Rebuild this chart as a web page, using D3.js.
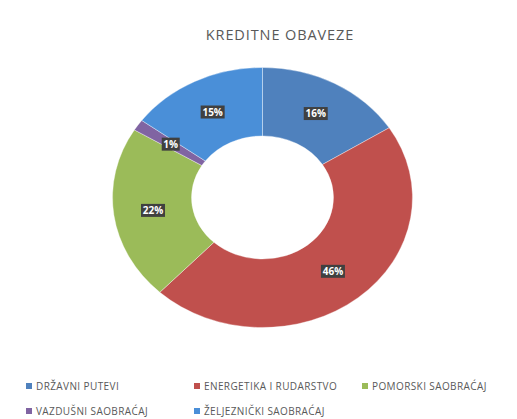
<!DOCTYPE html>
<html>
<head>
<meta charset="utf-8">
<script src="https://cdn.jsdelivr.net/npm/d3@7"></script>
<style>
  body { margin: 0; background: #fff; }
  text { font-family: "Open Sans", "DejaVu Sans", sans-serif; }
</style>
</head>
<body>
<script>
// data
const categories = ["DRŽAVNI PUTEVI", "ENERGETIKA I RUDARSTVO", "POMORSKI SAOBRAĆAJ", "VAZDUŠNI SAOBRAĆAJ", "ŽELJEZNIČKI SAOBRAĆAJ"];
const values = [16, 46, 21.7, 1.4, 14.9];
const colors = ["#4f81bd", "#c0504d", "#9bbb59", "#8064a2", "#4a8fd8"];
const title = "KREDITNE OBAVEZE";

const width = 517, height = 419;
const cx = 262.5, cy = 197.5;
const outer = 150, inner = 71, squash = 0.867;

const svg = d3.select("body").append("svg")
    .attr("width", width)
    .attr("height", height);

svg.append("text")
    .attr("x", 280)
    .attr("y", 40)
    .attr("text-anchor", "middle")
    .style("font-size", "14.5px")
    .style("letter-spacing", "0.9px")
    .style("fill", "#595959")
    .text(title);

const total = d3.sum(values);
const slices = categories.map((c, i) => ({ name: c, value: values[i], color: colors[i] }));

const pie = d3.pie().value(d => d.value).sort(null);
const arc = d3.arc().innerRadius(inner).outerRadius(outer);

const g = svg.append("g")
    .attr("transform", `translate(${cx},${cy}) scale(1,${squash})`);

const arcs = pie(slices);

g.selectAll("path")
    .data(arcs)
  .enter().append("path")
    .attr("d", arc)
    .style("fill", d => d.data.color)
    .style("stroke", "#fff")
    .style("stroke-width", 0.4);

// labels (outside the squashed group so text isn't distorted)
const fmt = d3.format(".0%");
const lbl = svg.selectAll(".lbl")
    .data(arcs)
  .enter().append("g")
    .attr("class", "lbl")
    .attr("transform", d => {
      const c = arc.centroid(d);
      return `translate(${cx + c[0]},${cy + c[1] * squash})`;
    });

lbl.append("rect")
    .attr("x", d => d.data.value / total < 0.1 ? -9 : -12)
    .attr("y", -6.5)
    .attr("width", d => d.data.value / total < 0.1 ? 18 : 24)
    .attr("height", 13)
    .style("fill", "#404040");

lbl.append("text")
    .attr("text-anchor", "middle")
    .attr("dy", "0.35em")
    .style("font-size", "10px")
    .style("font-weight", "bold")
    .style("fill", "#fff")
    .text(d => fmt(d.data.value / total));

// legend
const legendPos = [[26, 386], [194, 386], [362, 386], [26, 411], [194, 411]];
const leg = svg.selectAll(".leg")
    .data(slices)
  .enter().append("g")
    .attr("class", "leg")
    .attr("transform", (d, i) => `translate(${legendPos[i][0]},${legendPos[i][1]})`);

leg.append("rect")
    .attr("x", 0)
    .attr("y", -3)
    .attr("width", 6)
    .attr("height", 6)
    .style("fill", d => d.color);

leg.append("text")
    .attr("x", 10)
    .attr("dy", "0.35em")
    .style("font-size", "10px")
    .style("letter-spacing", "0.4px")
    .style("fill", "#595959")
    .text(d => d.name);
</script>
</body>
</html>
